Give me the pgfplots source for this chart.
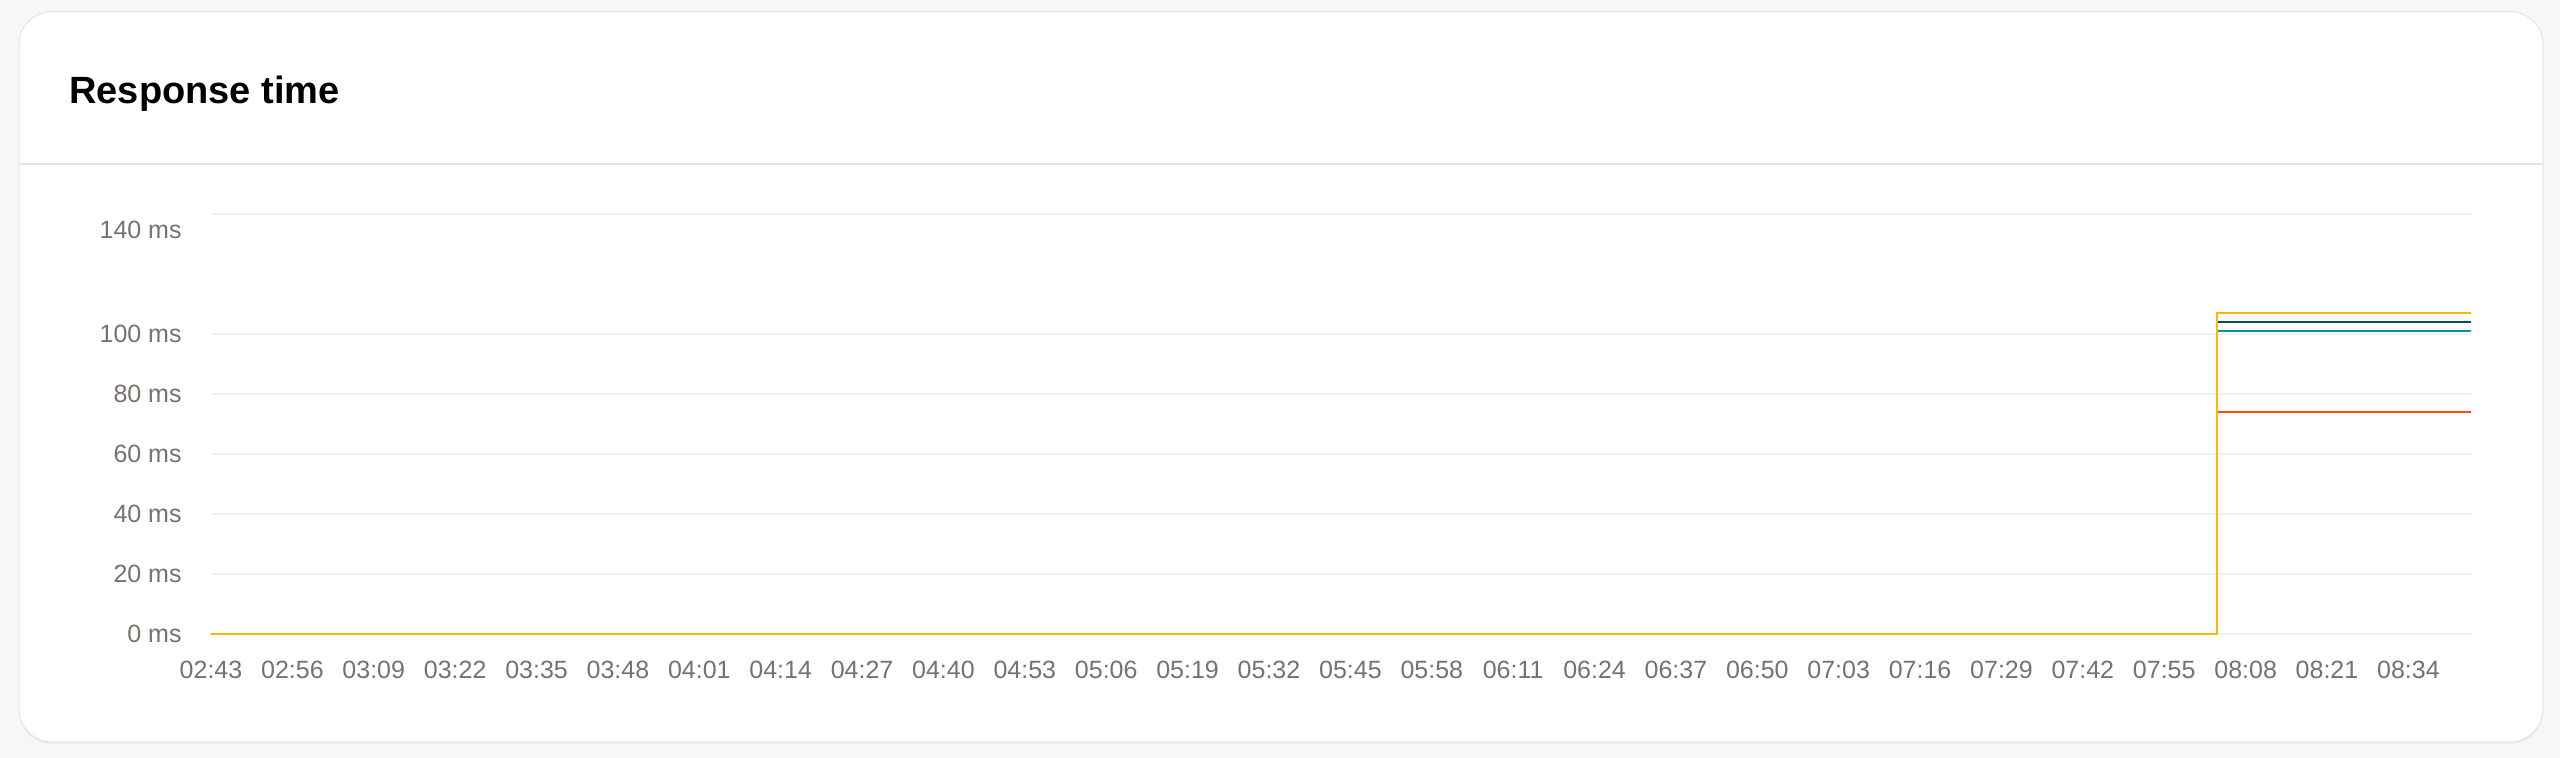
\documentclass[border=0pt]{standalone}
\usepackage{pgfplots}
\pgfplotsset{compat=1.18}
\usepackage{fontspec}
\setmainfont{Liberation Sans}

\definecolor{pagebg}{HTML}{F7F7F7}
\definecolor{cardline}{HTML}{E4E4E4}
\definecolor{gridc}{HTML}{F0F0F0}
\definecolor{ticktext}{HTML}{78716C}
\definecolor{sYellow}{HTML}{FFB800}
\definecolor{sNavy}{HTML}{0D4A5A}
\definecolor{sTeal}{HTML}{00998A}
\definecolor{sRed}{HTML}{FF4D00}

\begin{document}
\begin{tikzpicture}
\useasboundingbox (0,0) rectangle (1280pt,379pt);
\fill[pagebg] (0,0) rectangle (1280pt,379pt);
% card with soft shadow
\fill[black!7, rounded corners=16.5pt] (9.5pt,7pt) rectangle (1271.5pt,372.5pt);
\filldraw[fill=white, draw=cardline, line width=0.5pt, rounded corners=16.5pt]
  (9.5pt,8pt) rectangle (1271.5pt,373.2pt);
\draw[cardline, line width=1pt] (9.5pt,297pt) -- (1271.5pt,297pt);
\node[anchor=base west, inner sep=0pt, font=\fontsize{19}{21}\selectfont\bfseries]
  at (34.5pt,327.4pt) {Response time};

\begin{axis}[
    at={(105.5pt,62pt)}, anchor=south west,
    scale only axis, width=1130pt, height=210pt,
    xmin=0, xmax=361, ymin=0, ymax=140,
    clip=false,
    axis line style={draw=none},
    major tick length=0pt,
    ymajorgrids, grid style={gridc, line width=1pt},
    ytick={0,20,40,60,80,100},
    yticklabels={0 ms,20 ms,40 ms,60 ms,80 ms,100 ms},
    extra y ticks={140},
    extra y tick labels={140 ms},
    extra y tick style={grid=major, yticklabel style={yshift=-8pt}},
    yticklabel style={anchor=base east, inner sep=0pt, xshift=-14.5pt, yshift=-4.5pt,
      font=\fontsize{12.5}{14}\selectfont, text=ticktext},
    xtick={0,13,...,351},
    xticklabels={02:43,02:56,03:09,03:22,03:35,03:48,04:01,04:14,04:27,04:40,
      04:53,05:06,05:19,05:32,05:45,05:58,06:11,06:24,06:37,06:50,07:03,07:16,
      07:29,07:42,07:55,08:08,08:21,08:34},
    xticklabel style={anchor=base, inner sep=0pt, yshift=-22.5pt,
      font=\fontsize{12.5}{14}\selectfont, text=ticktext},
  ]
  % minutes after 02:43
  \addplot[sRed, line width=1pt] coordinates {(0,0) (320.5,0) (320.5,74) (361,74)};
  \addplot[sTeal, line width=1pt] coordinates {(0,0) (320.5,0) (320.5,101) (361,101)};
  \addplot[sNavy, line width=1pt] coordinates {(0,0) (320.5,0) (320.5,104) (361,104)};
  \addplot[sYellow, line width=1pt] coordinates {(0,0) (320.5,0) (320.5,107) (361,107)};
\end{axis}
\end{tikzpicture}
\end{document}
